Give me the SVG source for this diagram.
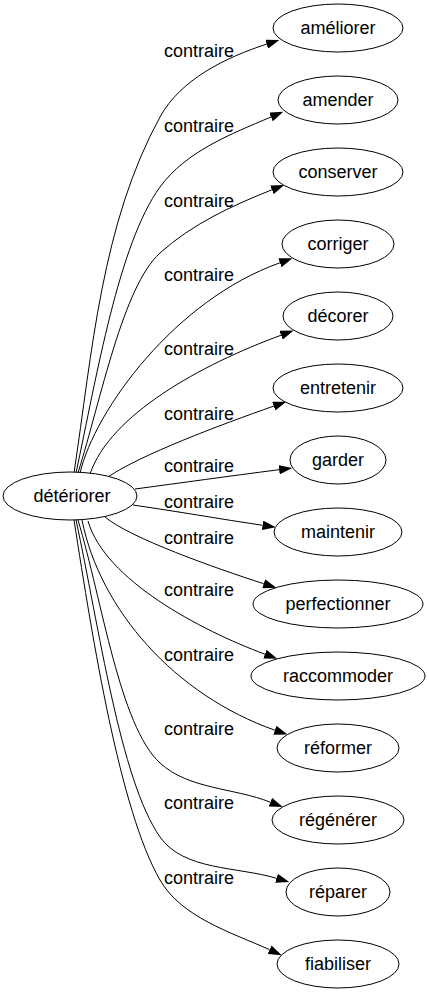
<svg xmlns="http://www.w3.org/2000/svg" width="429" height="995" viewBox="0 0 429 995">
<style>
.node ellipse{fill:#fff;stroke:#000;stroke-width:1}
.node text{font-family:"Liberation Sans",Arial,sans-serif;font-size:18px;fill:#000;text-anchor:middle}
.edges path{fill:none;stroke:#000;stroke-width:1;marker-end:url(#arr)}
.edges text{font-family:"Liberation Sans",Arial,sans-serif;font-size:18px;fill:#000;text-anchor:middle}
</style>
<defs>
<marker id="arr" viewBox="0 0 13.3 9.4" refX="0" refY="4.7" markerWidth="13.3" markerHeight="9.4" orient="auto" markerUnits="userSpaceOnUse">
<path d="M0,0 L13.3,4.7 L0,9.4 z" fill="#000"/>
</marker>
</defs>
<rect width="429" height="995" fill="#fff"/>
<g class="edges" id="edges">
<path d="M74,473 C92.2,352.3 101.4,224 160,117 C180.6,79.3 225.8,57.4 266.7,44.1"/>
<path d="M76,473 C96.7,376.2 118.7,243.6 160,187 C186,151.4 230.5,134.2 271,117"/>
<path d="M78,473 C101.2,398.5 122.9,286.5 160,253 C191.9,224.2 231.9,205.7 271.9,189.8"/>
<path d="M80,473 C95,410 175,300 279.9,262.8"/>
<path d="M90,474 C110,415 200,365 281.1,335.2"/>
<path d="M108,477 C140,455 220,425 273.7,406.1"/>
<path d="M135,489 C180,483 230,476 279.1,469.7"/>
<path d="M133,505 C175,511 220,519 262.6,525.3"/>
<path d="M105,517 C130,538 215,568 263.7,583.7"/>
<path d="M88,521 C105,580 200,630 264.9,654.2"/>
<path d="M82,520 C100,610 175,695 274.9,730.2"/>
<path d="M78,520 C102.4,601.4 119.6,725.7 160,763 C188.7,789.4 234.1,787.8 270.4,802.2"/>
<path d="M76,520 C99.1,626.5 120,779.6 160,837 C183.5,870.6 237.2,866.5 276.5,878.3"/>
<path d="M74,520 C92.9,641.5 120,810.7 160,880 C181.5,917.2 230.4,932.1 269.6,949.7"/>
<text x="199" y="57">contraire</text>
<text x="199" y="132">contraire</text>
<text x="199" y="207">contraire</text>
<text x="199" y="281">contraire</text>
<text x="199" y="355">contraire</text>
<text x="199" y="420">contraire</text>
<text x="199" y="472">contraire</text>
<text x="199" y="508">contraire</text>
<text x="199" y="544">contraire</text>
<text x="199" y="596">contraire</text>
<text x="199" y="661">contraire</text>
<text x="199" y="735">contraire</text>
<text x="199" y="809">contraire</text>
<text x="199" y="884">contraire</text>
</g>
<g class="node" id="n-deteriorer"><ellipse cx="70" cy="496" rx="67" ry="24"/><text x="72" y="502">détériorer</text></g>
<g class="node" id="n-ameliorer"><ellipse cx="338" cy="28" rx="65" ry="24"/><text x="338" y="34">améliorer</text></g>
<g class="node" id="n-amender"><ellipse cx="338" cy="100" rx="60" ry="24"/><text x="338" y="106">amender</text></g>
<g class="node" id="n-conserver"><ellipse cx="338" cy="172" rx="65" ry="24"/><text x="338" y="178">conserver</text></g>
<g class="node" id="n-corriger"><ellipse cx="338" cy="244" rx="56" ry="24"/><text x="338" y="250">corriger</text></g>
<g class="node" id="n-decorer"><ellipse cx="338" cy="316" rx="55" ry="24"/><text x="338" y="322">décorer</text></g>
<g class="node" id="n-entretenir"><ellipse cx="338" cy="388" rx="65" ry="24"/><text x="338" y="394">entretenir</text></g>
<g class="node" id="n-garder"><ellipse cx="338" cy="460" rx="48" ry="24"/><text x="338" y="466">garder</text></g>
<g class="node" id="n-maintenir"><ellipse cx="338" cy="532" rx="64" ry="24"/><text x="338" y="538">maintenir</text></g>
<g class="node" id="n-perfectionner"><ellipse cx="338" cy="604" rx="85" ry="24"/><text x="338" y="610">perfectionner</text></g>
<g class="node" id="n-raccommoder"><ellipse cx="338" cy="676" rx="87" ry="24"/><text x="338" y="682">raccommoder</text></g>
<g class="node" id="n-reformer"><ellipse cx="338" cy="748" rx="61" ry="24"/><text x="338" y="754">réformer</text></g>
<g class="node" id="n-regenerer"><ellipse cx="338" cy="820" rx="66" ry="24"/><text x="338" y="826">régénérer</text></g>
<g class="node" id="n-reparer"><ellipse cx="338" cy="892" rx="52" ry="24"/><text x="338" y="898">réparer</text></g>
<g class="node" id="n-fiabiliser"><ellipse cx="338" cy="964" rx="61" ry="24"/><text x="338" y="970">fiabiliser</text></g>
</svg>
